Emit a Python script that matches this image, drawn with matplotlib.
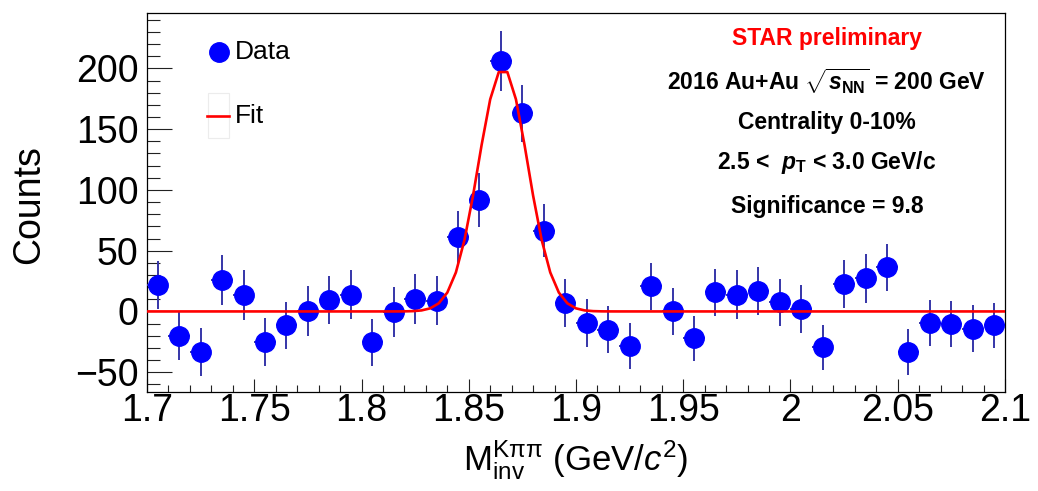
import numpy as np
import matplotlib
matplotlib.use("Agg")
import matplotlib.pyplot as plt
from matplotlib.ticker import MultipleLocator
from matplotlib.patches import Rectangle

# ---- data ----
mass = [1.705, 1.715, 1.725, 1.735, 1.745, 1.755, 1.765, 1.775, 1.785, 1.795,
        1.805, 1.815, 1.825, 1.835, 1.845, 1.855, 1.865, 1.875, 1.885, 1.895,
        1.905, 1.915, 1.925, 1.935, 1.945, 1.955, 1.965, 1.975, 1.985, 1.995,
        2.005, 2.015, 2.025, 2.035, 2.045, 2.055, 2.065, 2.075, 2.085, 2.095]
counts = [21.4, -20.0, -33.4, 25.5, 13.7, -25.2, -11.5, 0.6, 9.6, 13.7,
          -25.5, -0.5, 10.4, 8.8, 61.2, 91.9, 206.4, 163.2, 66.6, 6.9,
          -9.6, -15.0, -28.2, 20.6, 0.0, -21.9, 15.6, 13.7, 17.0, 7.4,
          2.0, -29.3, 22.5, 27.4, 36.2, -33.4, -9.6, -10.4, -14.2, -11.5]
errors = [19.8, 19.9, 19.6, 20.6, 20.7, 19.6, 19.6, 20.6, 19.9, 20.3,
          19.5, 20.7, 20.6, 20.3, 21.2, 22.2, 24.7, 23.4, 22.2, 19.6,
          19.6, 19.2, 18.9, 19.5, 19.5, 18.5, 19.6, 20.3, 19.7, 19.2,
          19.7, 18.5, 19.7, 20.1, 19.6, 18.6, 18.9, 19.2, 19.2, 18.2]
bin_half_width = 0.005

# Gaussian + constant fit parameters
fit_amp = 200.0
fit_mean = 1.866
fit_sigma = 0.0115
fit_const = 0.0
fit_range = (1.7, 2.1)
fit_npx = 101

xticks = [1.7, 1.75, 1.8, 1.85, 1.9, 1.95, 2.0, 2.05, 2.1]
xticklabels = ["1.7", "1.75", "1.8", "1.85", "1.9", "1.95", "2", "2.05", "2.1"]
yticks = [-50, 0, 50, 100, 150, 200]

info_lines = [
    r"2016 Au+Au $\sqrt{\mathbfit{s}_{\mathbf{NN}}}$ = 200 GeV",
    "Centrality 0-10%",
    r"2.5 <  $\mathbfit{p}_{\mathbf{T}}$ < 3.0 GeV/c",
    "Significance = 9.8",
]

# ---- style ----
plt.rcParams["font.family"] = ["Liberation Sans", "DejaVu Sans"]
plt.rcParams["mathtext.fontset"] = "custom"
plt.rcParams["mathtext.rm"] = "Liberation Sans"
plt.rcParams["mathtext.it"] = "Liberation Sans:italic"
plt.rcParams["mathtext.bf"] = "Liberation Sans:bold"
plt.rcParams["mathtext.bfit"] = "Liberation Sans:italic:bold"
plt.rcParams["axes.unicode_minus"] = True

fig = plt.figure(figsize=(10.38, 4.91), dpi=100)
L, R, B, T = 147 / 1038, 1005 / 1038, 1 - 392 / 491, 1 - 13 / 491
ax = fig.add_axes([L, B, R - L, T - B])

# data
ax.errorbar(mass, counts, yerr=errors, xerr=bin_half_width, fmt="o",
            color="#0000ff", markersize=14, ecolor="#3535a8",
            elinewidth=1.4, capsize=0, zorder=3)

# fit curve
fx = np.linspace(fit_range[0], fit_range[1], fit_npx)
fy = fit_const + fit_amp * np.exp(-0.5 * ((fx - fit_mean) / fit_sigma) ** 2)
ax.plot(fx, fy, color="#ff0000", lw=1.9, zorder=4)

ax.set_xlim(1.7, 2.1)
ax.set_ylim(-66.3, 245.6)
ax.set_xticks(xticks)
ax.set_xticklabels(xticklabels)
ax.set_yticks(yticks)
ax.xaxis.set_minor_locator(MultipleLocator(0.01))
ax.yaxis.set_minor_locator(MultipleLocator(10))
ax.tick_params(axis="both", which="both", direction="in", top=False,
               right=False, width=0.8, color="#222222", labelsize=27)
ax.tick_params(axis="y", which="major", length=18, pad=6)
ax.tick_params(axis="y", which="minor", length=9)
ax.tick_params(axis="x", which="major", length=9.4, pad=1)
ax.tick_params(axis="x", which="minor", length=4.7)
for s in ax.spines.values():
    s.set_linewidth(0.9)

# axis titles
fig.text(29 / 1038, 1 - 205 / 491, "Counts", rotation=90, ha="center",
         va="center", fontsize=27)
fig.text(576 / 1038, 1 - 470 / 491,
         r"M$_{\mathrm{inv}}^{\mathrm{K\pi\pi}}$ (GeV/$\mathit{c}^{2}$)",
         ha="center", va="baseline", fontsize=25)

# manual legend
ax.plot([0.0839], [0.897], "o", color="#0000ff", markersize=14,
        transform=ax.transAxes, clip_on=False)
ax.text(0.1026, 0.897, "Data", transform=ax.transAxes, ha="left",
        va="center", fontsize=19)
ax.add_patch(Rectangle((0.0711, 0.670), 0.0245, 0.119, transform=ax.transAxes,
                       facecolor="none", edgecolor="#ececec", lw=0.8))
ax.plot([0.0699, 0.0956], [0.728, 0.728], color="#ff0000", lw=1.9,
        transform=ax.transAxes)
ax.text(0.1026, 0.728, "Fit", transform=ax.transAxes, ha="left",
        va="center", fontsize=19)

# annotation block
cx = 827 / 1038
fig.text(cx, 1 - 38 / 491, "STAR preliminary", color="#ff0000",
         fontweight="bold", fontsize=16.5, ha="center", va="center")
ys = [81, 122, 162, 207]
for line, yy in zip(info_lines, ys):
    fig.text(cx, 1 - yy / 491, line, fontweight="bold", fontsize=16.5,
             ha="center", va="center")

fig.savefig("out.png", dpi=100, facecolor="white")
